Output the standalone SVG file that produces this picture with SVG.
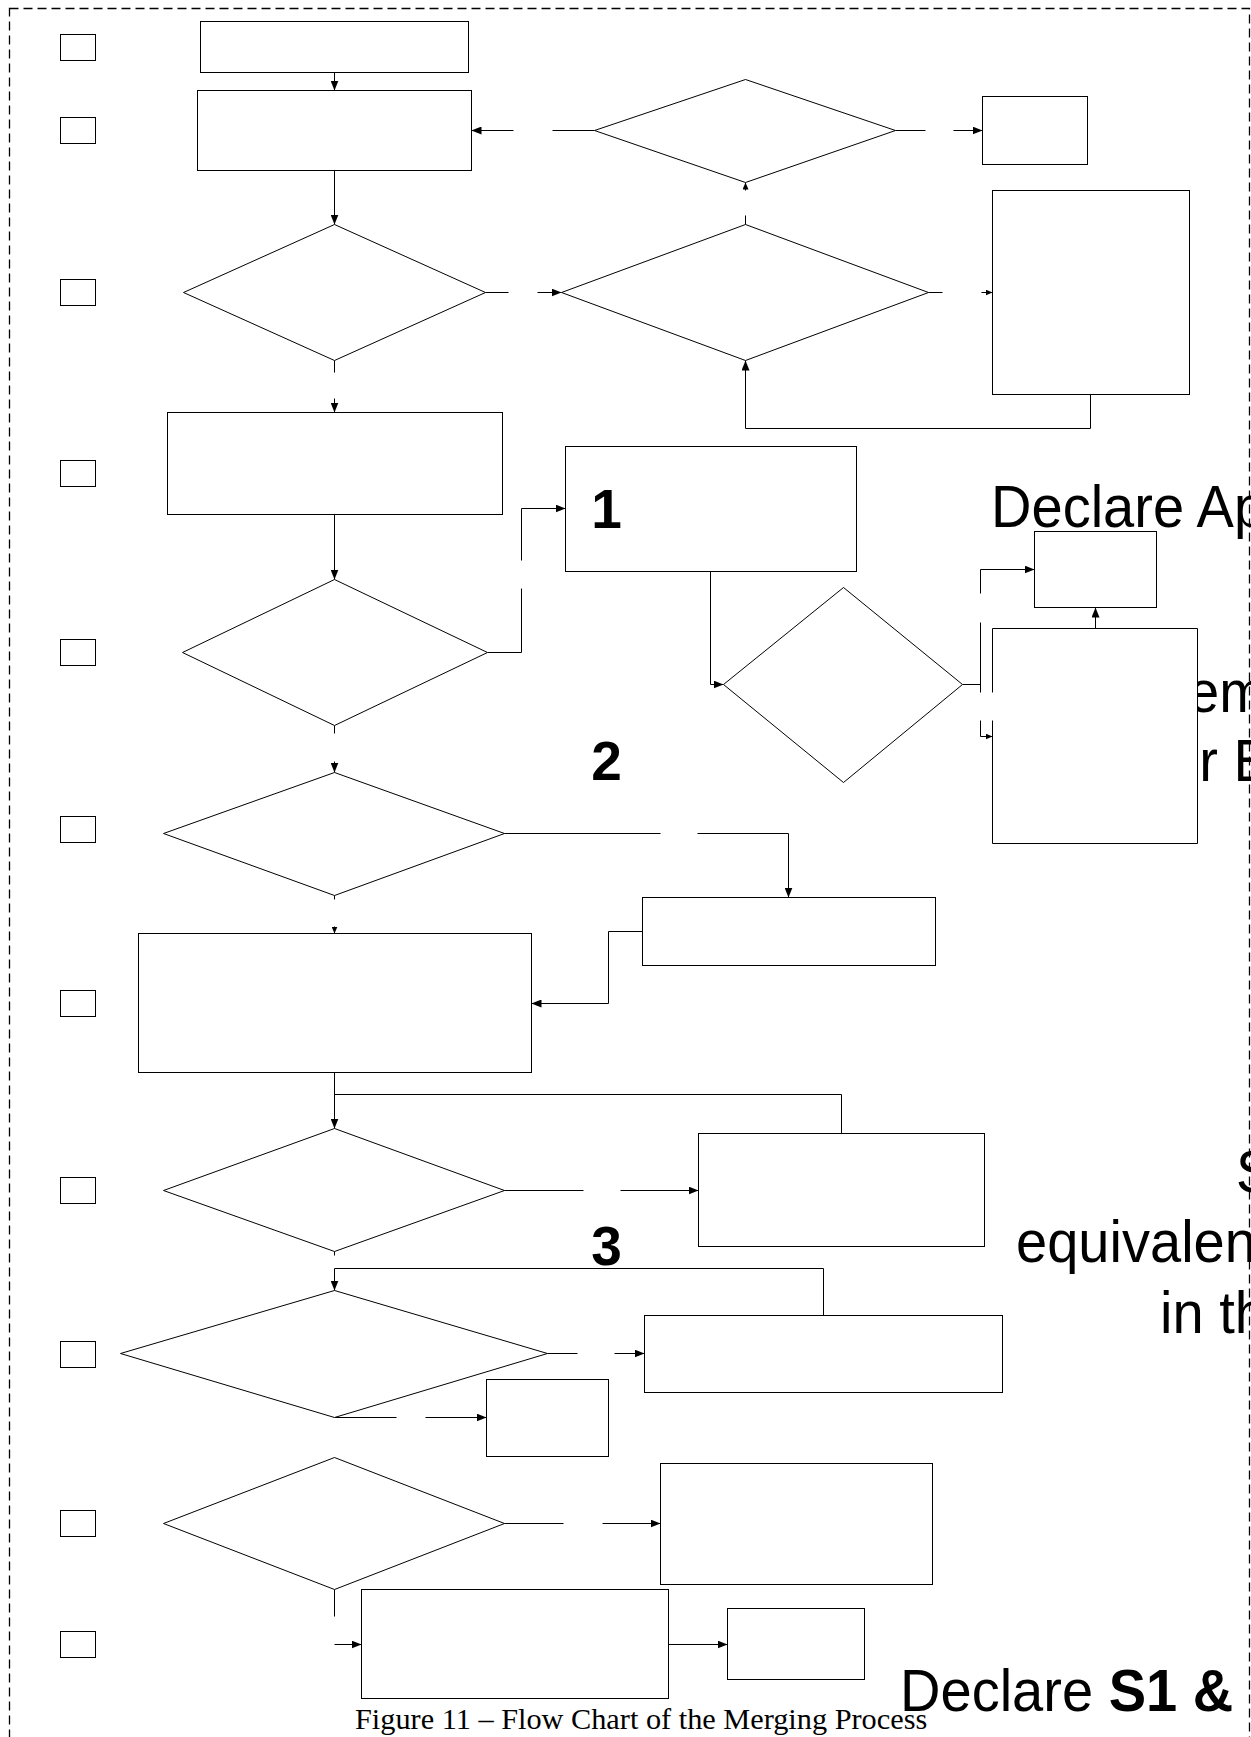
<svg xmlns="http://www.w3.org/2000/svg" width="1251" height="1737" viewBox="0 0 1251 1737">
<style>
.shape{fill:#fff;stroke:#000;stroke-width:1}
.sq{fill:#fff;stroke:#000;stroke-width:1}
.ln{fill:none;stroke:#000;stroke-width:1}
.big{font-family:"Liberation Sans",Arial,sans-serif;font-size:59px;fill:#000}
.num{font-family:"Liberation Sans",Arial,sans-serif;font-size:55px;font-weight:bold;fill:#000}
.cap{font-family:"Liberation Serif","Times New Roman",serif;font-size:30.3px;fill:#000}
</style>
<defs>
<marker id="ah" viewBox="0 0 10 8" refX="10" refY="4" markerWidth="10" markerHeight="8" markerUnits="userSpaceOnUse" orient="auto"><path d="M0,0 L10,4 L0,8 z" fill="#000"/></marker>
<marker id="ahs" viewBox="0 0 7 6" refX="7" refY="3" markerWidth="7" markerHeight="6" markerUnits="userSpaceOnUse" orient="auto"><path d="M0,0 L7,3 L0,6 z" fill="#000"/></marker>
</defs>
<rect width="1251" height="1737" fill="#fff"/>
<rect x="9.5" y="8.5" width="1240" height="1760" fill="none" stroke="#000" stroke-width="1.3" stroke-dasharray="9 5"/>

<g id="bigtext">
<text class="big" transform="translate(991,527) scale(0.95,1)">Declare Ap</text>
<text class="big" transform="translate(1188,712) scale(0.95,1)">em</text>
<text class="big" transform="translate(1168,781) scale(0.95,1)">or E</text>
<text class="big" transform="translate(1236,1192) scale(0.95,1)">S</text>
<text class="big" transform="translate(1016,1262) scale(0.95,1)">equivalen</text>
<text class="big" transform="translate(1160,1333) scale(0.95,1)">in th</text>
<text class="big" transform="translate(900,1711) scale(0.95,1)">Declare <tspan font-weight="bold">S1 &amp;</tspan></text>
<text class="cap" x="355" y="1729">Figure 11 – Flow Chart of the Merging Process</text>
</g>

<g id="steps" transform="translate(0.5,0.5)">
<rect class="sq" x="60" y="34" width="35" height="26"/>
<rect class="sq" x="60" y="117" width="35" height="26"/>
<rect class="sq" x="60" y="279" width="35" height="26"/>
<rect class="sq" x="60" y="460" width="35" height="26"/>
<rect class="sq" x="60" y="639" width="35" height="26"/>
<rect class="sq" x="60" y="816" width="35" height="26"/>
<rect class="sq" x="60" y="990" width="35" height="26"/>
<rect class="sq" x="60" y="1177" width="35" height="26"/>
<rect class="sq" x="60" y="1341" width="35" height="26"/>
<rect class="sq" x="60" y="1510" width="35" height="26"/>
<rect class="sq" x="60" y="1631" width="35" height="26"/>
</g>

<g id="connectors" transform="translate(0.5,0.5)">
<path class="ln" d="M334,72 V90" marker-end="url(#ah)"/>
<path class="ln" d="M513,130 H471" marker-end="url(#ah)"/>
<path class="ln" d="M552,130 H594"/>
<path class="ln" d="M334,170 V224" marker-end="url(#ah)"/>
<path class="ln" d="M485,292 H508"/>
<path class="ln" d="M537,292 H561" marker-end="url(#ah)"/>
<path class="ln" d="M895,130 H925"/>
<path class="ln" d="M953,130 H982" marker-end="url(#ah)"/>
<path class="ln" d="M745,190 V182" marker-end="url(#ahs)"/>
<path class="ln" d="M745,215 V224"/>
<path class="ln" d="M928,292 H942"/>
<path class="ln" d="M981,292 H992" marker-end="url(#ahs)"/>
<path class="ln" d="M1090,394 V428 H745 V360" marker-end="url(#ah)"/>
<path class="ln" d="M334,360 V372"/>
<path class="ln" d="M334,398 V412" marker-end="url(#ah)"/>
<path class="ln" d="M334,514 V579" marker-end="url(#ah)"/>
<path class="ln" d="M487,652 H521 V588"/>
<path class="ln" d="M521,560 V508 H565" marker-end="url(#ah)"/>
<path class="ln" d="M334,725 V733"/>
<path class="ln" d="M334,761 V772" marker-end="url(#ah)"/>
<path class="ln" d="M710,571 V684 H723" marker-end="url(#ah)"/>
<path class="ln" d="M962,684 H980"/>
<path class="ln" d="M980,593 V569 H1034" marker-end="url(#ah)"/>
<path class="ln" d="M980,622 V692"/>
<path class="ln" d="M980,720 V736 H992" marker-end="url(#ahs)"/>
<path class="ln" d="M1095,628 V607" marker-end="url(#ah)"/>
<path class="ln" d="M504,833 H660"/>
<path class="ln" d="M697,833 H788 V897" marker-end="url(#ah)"/>
<path class="ln" d="M642,931 H608 V1003 H531" marker-end="url(#ah)"/>
<path class="ln" d="M334,895 V899"/>
<path class="ln" d="M334,926 V933" marker-end="url(#ahs)"/>
<path class="ln" d="M334,1072 V1128" marker-end="url(#ah)"/>
<path class="ln" d="M334,1094 H841 V1133"/>
<path class="ln" d="M504,1190 H583"/>
<path class="ln" d="M620,1190 H698" marker-end="url(#ah)"/>
<path class="ln" d="M334,1251 V1255"/>
<path class="ln" d="M334,1268 V1290" marker-end="url(#ah)"/>
<path class="ln" d="M334,1268 H823 V1315"/>
<path class="ln" d="M547,1353 H577"/>
<path class="ln" d="M614,1353 H644" marker-end="url(#ah)"/>
<path class="ln" d="M334,1417 H396"/>
<path class="ln" d="M425,1417 H486" marker-end="url(#ah)"/>
<path class="ln" d="M504,1523 H563"/>
<path class="ln" d="M602,1523 H660" marker-end="url(#ah)"/>
<path class="ln" d="M334,1589 V1616"/>
<path class="ln" d="M334,1644 H361" marker-end="url(#ah)"/>
<path class="ln" d="M668,1644 H727" marker-end="url(#ah)"/>
</g>

<g id="nodes" transform="translate(0.5,0.5)">
<g id="n1"><rect class="shape" x="200" y="21" width="268" height="51"/></g>
<g id="n2"><rect class="shape" x="197" y="90" width="274" height="80"/></g>
<g id="dA"><polygon class="shape" points="594,130 745,79 895,130 745,182"/></g>
<g id="nB"><rect class="shape" x="982" y="96" width="105" height="68"/></g>
<g id="d1"><polygon class="shape" points="183,292 334,224 485,292 334,360"/></g>
<g id="dC"><polygon class="shape" points="561,292 745,224 928,292 745,360"/></g>
<g id="nD"><rect class="shape" x="992" y="190" width="197" height="204"/></g>
<g id="n4"><rect class="shape" x="167" y="412" width="335" height="102"/></g>
<g id="box1"><rect class="shape" x="565" y="446" width="291" height="125"/><text class="num" x="606" y="527" text-anchor="middle">1</text></g>
<g id="dE"><polygon class="shape" points="182,652 334,579 487,652 334,725"/></g>
<g id="dG"><polygon class="shape" points="723,684 843,587 962,684 843,782"/></g>
<g id="nI"><rect class="shape" x="1034" y="531" width="122" height="76"/></g>
<g id="nH"><rect x="992" y="628" width="205" height="215" fill="#fff"/><path class="ln" d="M992,692 V628 H1197 V843 H992 V720"/></g>
<g id="dF"><polygon class="shape" points="163,833 334,772 504,833 334,895"/></g>
<g id="label2"><text class="num" x="606" y="779" text-anchor="middle">2</text></g>
<g id="nJ"><rect class="shape" x="642" y="897" width="293" height="68"/></g>
<g id="nK"><rect class="shape" x="138" y="933" width="393" height="139"/></g>
<g id="dL"><polygon class="shape" points="163,1190 334,1128 504,1190 334,1251"/></g>
<g id="nM"><rect class="shape" x="698" y="1133" width="286" height="113"/></g>
<g id="label3"><text class="num" x="606" y="1264" text-anchor="middle">3</text></g>
<g id="dO"><polygon class="shape" points="120,1353 334,1290 547,1353 334,1417"/></g>
<g id="nN"><rect class="shape" x="644" y="1315" width="358" height="77"/></g>
<g id="nP"><rect class="shape" x="486" y="1379" width="122" height="77"/></g>
<g id="dQ"><polygon class="shape" points="163,1523 334,1457 504,1523 334,1589"/></g>
<g id="nR"><rect class="shape" x="660" y="1463" width="272" height="121"/></g>
<g id="nS"><rect class="shape" x="361" y="1589" width="307" height="109"/></g>
<g id="nT"><rect class="shape" x="727" y="1608" width="137" height="71"/></g>
</g>
</svg>
